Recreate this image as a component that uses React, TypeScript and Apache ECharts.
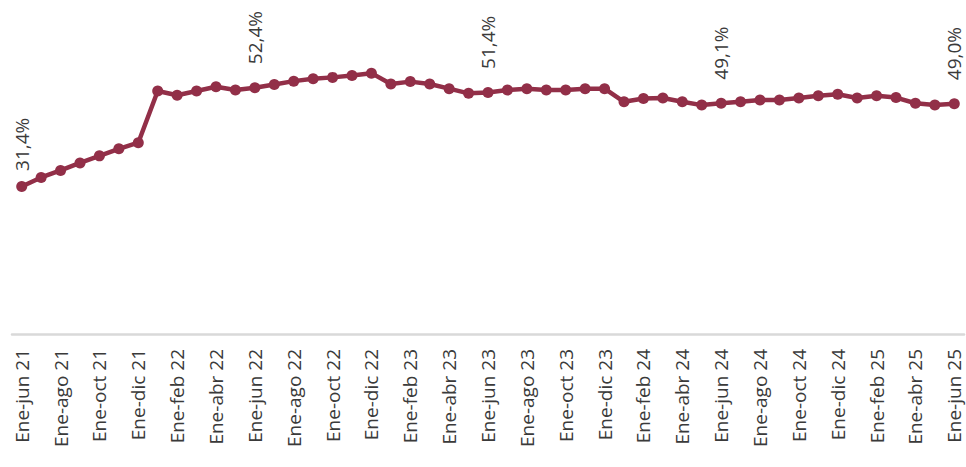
import React, { useEffect, useRef } from "react";
import * as echarts from "echarts";

const months = ["ene", "feb", "mar", "abr", "may", "jun", "jul", "ago", "sep", "oct", "nov", "dic"];

// Categories: Ene-jun 21 ... Ene-jun 25 (monthly, cumulative Jan–month)
const categories: string[] = [];
for (let y = 21; y <= 25; y++) {
  for (let m = 0; m < 12; m++) {
    if (y === 21 && m < 5) continue;
    if (y === 25 && m > 5) continue;
    categories.push(m === 0 ? `Ene ${y}` : `Ene-${months[m]} ${y}`);
  }
}

const values = [
  31.4, 33.3, 34.8, 36.4, 37.9, 39.4, 40.7,
  51.7, 50.8, 51.7, 52.6, 51.9, 52.4,
  53.1, 53.8, 54.3, 54.6, 55.0, 55.5,
  53.2, 53.7, 53.2, 52.2, 51.2, 51.4,
  51.9, 52.2, 51.9, 51.9, 52.2, 52.2,
  49.4, 50.1, 50.2, 49.4, 48.7, 49.1,
  49.4, 49.8, 49.8, 50.2, 50.7, 51.0,
  50.2, 50.7, 50.3, 49.1, 48.7, 49.0,
];

const labeledIndices = [0, 12, 24, 36, 48];

const LINE_COLOR = "#922f48";
const TEXT_COLOR = "#3a3a3a";
const FONT = "'Open Sans', 'Noto Sans', sans-serif";

export default function App() {
  const ref = useRef<HTMLDivElement>(null);

  useEffect(() => {
    if (!ref.current) return;
    const chart = echarts.init(ref.current, undefined, { renderer: "svg" });

    const data = values.map((v, i) => {
      if (!labeledIndices.includes(i)) return v;
      return {
        value: v,
        label: {
          show: true,
          position: "top",
          distance: i === 0 ? 10 : 18,
          rotate: 90,
          align: "left",
          verticalAlign: "middle",
          formatter: (p: any) => p.value.toFixed(1).replace(".", ",") + "%",
          color: TEXT_COLOR,
          fontSize: 19,
          lineHeight: 16,
          fontFamily: FONT,
        },
      };
    });

    chart.setOption({
      animation: false,
      grid: { left: 12, right: 2, top: 52, height: 282, containLabel: false },
      xAxis: {
        type: "category",
        data: categories,
        boundaryGap: true,
        axisLine: { show: true, lineStyle: { color: "#d9d9d9", width: 2.5 } },
        axisTick: { show: false },
        axisLabel: {
          interval: 1,
          rotate: 90,
          margin: 15,
          color: TEXT_COLOR,
          fontSize: 19,
          lineHeight: 16,
          fontFamily: FONT,
        },
        splitLine: { show: false },
      },
      yAxis: {
        type: "value",
        min: 0,
        max: 60,
        show: false,
        splitLine: { show: false },
      },
      series: [
        {
          type: "line",
          data,
          symbol: "circle",
          symbolSize: 11,
          showAllSymbol: true,
          lineStyle: { color: LINE_COLOR, width: 4.5 },
          itemStyle: { color: LINE_COLOR },
          label: { show: false },
          emphasis: { disabled: true },
        },
      ],
    });

    return () => chart.dispose();
  }, []);

  return (
    <div
      ref={ref}
      style={{ position: "fixed", left: 0, top: 0, width: 966, height: 467, background: "#fff" }}
    />
  );
}
